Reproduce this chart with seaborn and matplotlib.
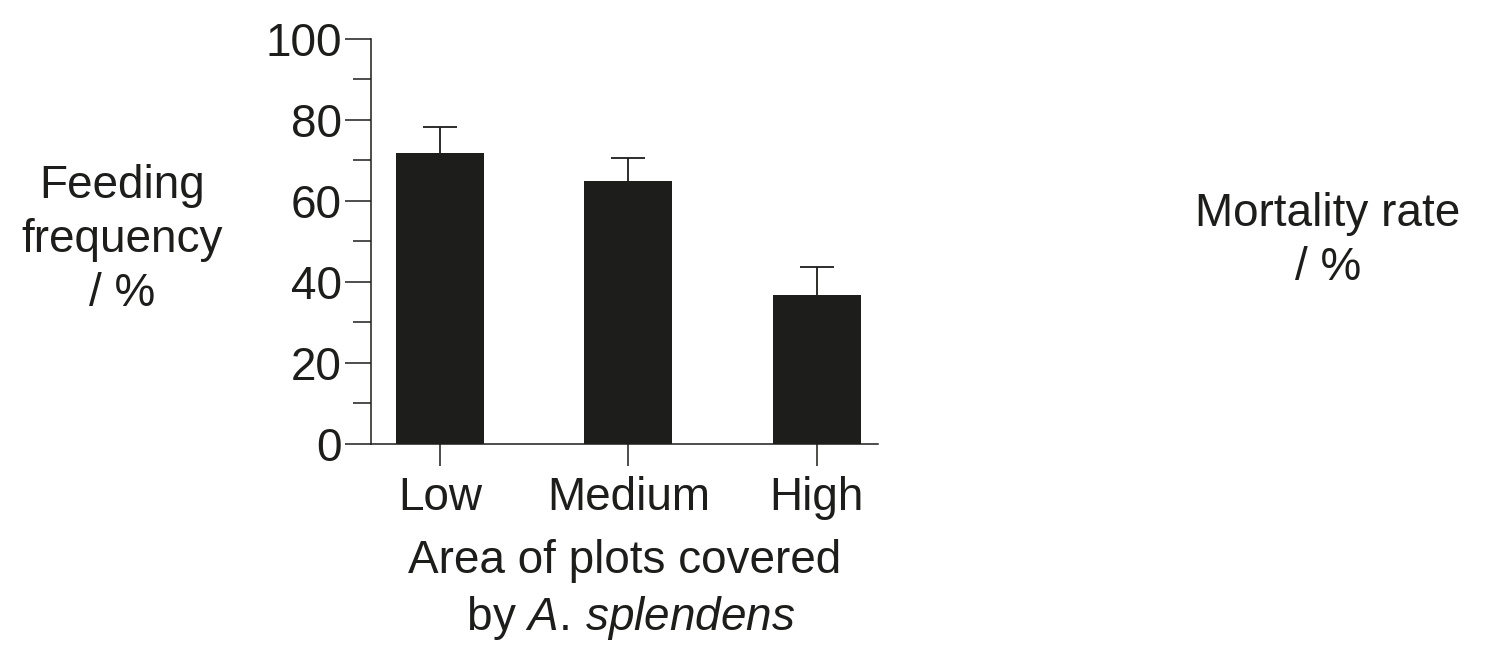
#!/usr/bin/env python3

"""Bar chart of feeding frequency by area of plots covered by A. splendens."""

import seaborn as sns
import pandas as pd
import matplotlib.pyplot as plt

# DATA
categories = ["Low", "Medium", "High"]
feeding_freq = [71.9, 64.9, 36.8]
error_up = [6.4, 5.7, 6.9]
y_ticks = [0, 20, 40, 60, 80, 100]
y_minor = [10, 30, 50, 70, 90]

# THEME
sns.set_theme(style="white")
plt.rcParams["font.family"] = ["Liberation Sans", "DejaVu Sans"]
plt.rcParams["mathtext.fontset"] = "custom"
plt.rcParams["mathtext.rm"] = "Liberation Sans"
plt.rcParams["mathtext.it"] = "Liberation Sans:italic"

ink = "#1d1d1b"
fs = 33
df = pd.DataFrame({"Area": categories, "Feeding": feeding_freq})

fig = plt.figure(figsize=(14.86, 6.54), dpi=100)
ax = fig.add_axes([0.2497, 0.3211, 0.3411, 0.6193])

sns.barplot(data=df, x="Area", y="Feeding", order=categories, color=ink,
            width=0.467, saturation=1, errorbar=None, ax=ax)
for p in ax.patches:
    p.set_edgecolor("none")

# upper error bars only
xs = list(range(len(categories)))
eb = ax.errorbar(xs, feeding_freq, yerr=[[0] * len(xs), error_up], fmt="none",
                 ecolor=ink, elinewidth=1.3, capsize=12, capthick=1.3)
eb[1][0].set_visible(False)  # hide lower caps

ax.set_ylim(0, 100)
ax.set_xlim(-0.366, 2.324)
ax.set_yticks(y_ticks)
ax.set_yticks(y_minor, minor=True)

sns.despine(ax=ax)
for s in ["left", "bottom"]:
    ax.spines[s].set_color(ink)
    ax.spines[s].set_linewidth(1.1)

ax.tick_params(axis="y", which="major", direction="out", length=19, width=1.1,
               color=ink, pad=2, labelsize=fs, labelcolor=ink, left=True)
ax.tick_params(axis="y", which="minor", direction="out", length=13, width=1.1,
               color=ink, left=True)
ax.tick_params(axis="x", which="major", direction="out", length=16, width=1.1,
               color=ink, pad=7, labelsize=fs, labelcolor=ink, bottom=True)

ax.set_xlabel("Area of plots covered\n by $\\mathit{A.\\,splendens}$",
              fontsize=fs, color=ink, labelpad=14, linespacing=1.3)
ax.set_ylabel("")

fig.text(0.082, 0.633, "Feeding\nfrequency\n/ %", ha="center", va="center",
         fontsize=fs, color=ink, linespacing=1.3)
fig.text(0.8937, 0.632, "Mortality rate\n/ %", ha="center", va="center",
         fontsize=fs, color=ink, linespacing=1.3)

fig.savefig("out.png", dpi=100)
